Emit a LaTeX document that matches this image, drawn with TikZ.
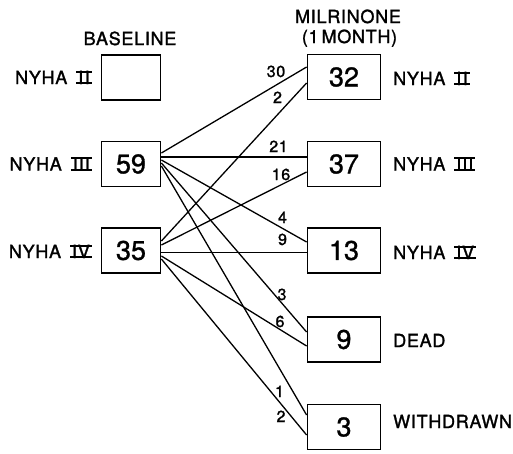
\documentclass[tikz,border=0pt]{standalone}
\usepackage{fontspec}
\setmainfont{TeX Gyre Heros}[LetterSpace=4, RawFeature={embolden=1.5}]
\newfontfamily\digfont{TeX Gyre Heros}[RawFeature={embolden=1.0}]
\newcommand\rnm[1]{\setbox0\hbox{\kern2pt#1\kern2pt}\rlap{\rule{\wd0}{1.8pt}}\rlap{\rule[\dimexpr\ht0-1.8pt\relax]{\wd0}{1.8pt}}\box0}
\newcommand\nyha[1]{NYHA\kern9pt\rnm{#1}}
\tikzset{
  box/.style={draw, line width=1.8pt, minimum height=45pt, inner sep=0pt, font=\digfont\fontsize{27}{30}\selectfont},
  lbox/.style={box, minimum width=59pt},
  rbox/.style={box, minimum width=73pt},
  lab/.style={inner sep=0pt, font=\fontsize{18}{20}\selectfont},
  num/.style={inner sep=0pt, anchor=base, font=\fontsize{16}{18}\selectfont},
  flow/.style={line width=1.3pt}
}
\begin{document}
\begin{tikzpicture}[x=1pt,y=-1pt]
\useasboundingbox (0,0) rectangle (513,453);
% boxes
\node[lbox] (b2) at (131,77.5) {};
\node[lbox] (b59) at (131,164) {59};
\node[lbox] (b35) at (131,250.5) {35};
\node[rbox] (r32) at (344,77) {32};
\node[rbox] (r37) at (344,164) {37};
\node[rbox] (r13) at (344,250.5) {13};
\node[rbox] (r9) at (344,339.5) {9};
\node[rbox] (r3) at (344,427) {3};
% headings
\node[lab, anchor=base] (tb) at (130,45) {BASELINE};
\node[lab, anchor=base] (tm) at (348,23) {MILRINONE};
\node[lab, anchor=base] (tmo) at (349.5,43) {(1\kern3pt MONTH)};
% left labels
\node[lab, anchor=base east] (l2) at (92,84) {\nyha{I\kern1.5pt I}};
\node[lab, anchor=base east] (l3) at (92,170.5) {\nyha{I\kern1pt I\kern1pt I}};
\node[lab, anchor=base east] (l4) at (92,258) {\nyha{IV}};
% right labels
\node[lab, anchor=base west] (q2) at (393,85) {\nyha{I\kern1.5pt I}};
\node[lab, anchor=base west] (q3) at (393,170.5) {\nyha{I\kern1pt I\kern1pt I}};
\node[lab, anchor=base west] (q4) at (393,259) {\nyha{IV}};
\node[lab, anchor=base west] (qd) at (393,347) {DEAD};
\node[lab, anchor=base west] (qw) at (393,428) {WITHDRAWN};
% flows from NYHA III
\draw[flow] ([yshift=11pt]b59.east) -- ([yshift=10pt]r32.west);
\draw[flow] ([yshift=7pt]b59.east) -- ([yshift=7pt]r37.west);
\draw[flow] ([yshift=4pt]b59.east) -- ([yshift=8.5pt]r13.west);
\draw[flow] ([yshift=1pt]b59.east) -- ([yshift=7.5pt]r9.west);
\draw[flow] ([yshift=-2pt]b59.east) -- ([yshift=12pt]r3.west);
% flows from NYHA IV
\draw[flow] ([yshift=9.5pt]b35.east) -- ([yshift=-6pt]r32.west);
\draw[flow] ([yshift=5.5pt]b35.east) -- ([yshift=-8pt]r37.west);
\draw[flow] ([yshift=-2pt]b35.east) -- ([yshift=-2pt]r13.west);
\draw[flow] ([yshift=-5.5pt]b35.east) -- ([yshift=-6.5pt]r9.west);
\draw[flow] ([yshift=-8.5pt]b35.east) -- ([yshift=-8pt]r3.west);
% counts
\node[num] (n30) at (276,77) {30};
\node[num] (n2a) at (277.5,103) {2};
\node[num] (n21) at (278.5,152) {21};
\node[num] (n16) at (281,180) {16};
\node[num] (n4) at (282.5,223) {4};
\node[num] (n9) at (282.5,245) {9};
\node[num] (n3) at (282,300) {3};
\node[num] (n6) at (280,327) {6};
\node[num] (n1) at (279.5,397) {1};
\node[num] (n2b) at (281,422) {2};
\end{tikzpicture}
\end{document}
